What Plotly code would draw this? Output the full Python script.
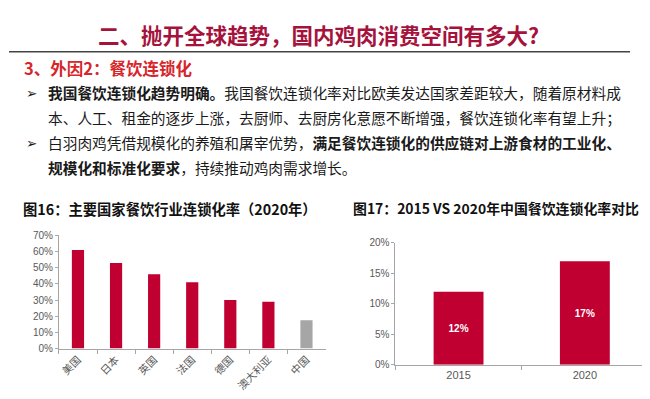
import plotly.graph_objects as go

W, H = 650, 399

# ---- data ----
countries = ["美国", "日本", "英国", "法国", "德国", "澳大利亚", "中国"]
chain_rate_2020 = [0.61, 0.53, 0.46, 0.41, 0.30, 0.29, 0.175]
years = ["2015", "2020"]
china_rate = [0.12, 0.17]

title_text = "二、抛开全球趋势，国内鸡肉消费空间有多大?"
subtitle_text = "3、外因2：餐饮连锁化"
bullet_lines = [
    "<b>我国餐饮连锁化趋势明确。</b>我国餐饮连锁化率对比欧美发达国家差距较大，随着原材料成",
    "本、人工、租金的逐步上涨，去厨师、去厨房化意愿不断增强，餐饮连锁化率有望上升；",
    "白羽肉鸡凭借规模化的养殖和屠宰优势，<b>满足餐饮连锁化的供应链对上游食材的工业化、</b>",
    "<b>规模化和标准化要求</b>，持续推动鸡肉需求增长。",
]
chart1_title = "图16：主要国家餐饮行业连锁化率（2020年）"
chart2_title = "图17：2015 VS 2020年中国餐饮连锁化率对比"

RED = "#C00031"
GREY_BAR = "#A6A6A6"
AXIS = "#A6A6A6"
TICKFONT = dict(family="Liberation Sans, Arial", size=10, color="#595959")
XCATFONT = dict(family="Noto Sans CJK SC", size=10.5, color="#595959")
CJK = "Noto Sans CJK SC"


def px(x):
    return x / W


def py(y):
    return 1 - y / H


fig = go.Figure()

fig.add_trace(go.Bar(
    x=countries, y=chain_rate_2020, width=0.32,
    marker=dict(color=[RED] * 6 + [GREY_BAR], line=dict(width=0)),
    xaxis="x", yaxis="y", showlegend=False, hoverinfo="skip",
))
fig.add_trace(go.Bar(
    x=years, y=china_rate, width=0.395,
    marker=dict(color=RED, line=dict(width=0)),
    texttemplate="<b>%{y:.0%}</b>", textposition="inside",
    insidetextanchor="middle",
    textfont=dict(family="Liberation Sans, Arial", size=10, color="white"),
    xaxis="x2", yaxis="y2", showlegend=False, hoverinfo="skip",
))

common_x = dict(type="category", showline=True, linecolor=AXIS, linewidth=1,
                ticks="outside", tickcolor=AXIS, ticklen=4, tickson="boundaries",
                showgrid=False, fixedrange=True)
common_y = dict(showline=True, linecolor=AXIS, linewidth=1, ticks="outside",
                tickcolor=AXIS, ticklen=3, showgrid=False, zeroline=False,
                tickformat=".0%", tickfont=TICKFONT, fixedrange=True)

fig.update_layout(
    width=W, height=H,
    margin=dict(l=0, r=0, t=0, b=0),
    paper_bgcolor="white", plot_bgcolor="white",
    xaxis=dict(domain=[px(50), px(317)], tickangle=-45, anchor="y",
               tickfont=XCATFONT, **common_x),
    yaxis=dict(domain=[py(345), py(228.3)], range=[0, 0.7], dtick=0.1,
               anchor="x", **common_y),
    xaxis2=dict(domain=[px(387), px(640)], tickangle=0, anchor="y2",
                tickfont=dict(family="Liberation Sans, Arial", size=11, color="#595959"),
                **common_x),
    yaxis2=dict(domain=[py(361.7), py(236)], range=[0, 0.2], dtick=0.05,
                anchor="x2", **common_y),
)

annotations = []
annotations.append(dict(x=px(310), y=py(21), xref="paper", yref="paper",
                        text="<b>" + title_text + "</b>", showarrow=False,
                        xanchor="center", yanchor="middle",
                        font=dict(family=CJK, size=21.5, color="#A5133D")))
annotations.append(dict(x=px(13), y=py(56), xref="paper", yref="paper",
                        text="<b>" + subtitle_text + "</b>", showarrow=False,
                        xanchor="left", yanchor="middle",
                        font=dict(family=CJK, size=16.5, color="#D7262B")))
line_y = [81, 107, 133, 158]
for t, yy in zip(bullet_lines, line_y):
    annotations.append(dict(x=px(37), y=py(yy), xref="paper", yref="paper",
                            text=t, showarrow=False, xanchor="left", yanchor="middle",
                            font=dict(family=CJK, size=14.7, color="#1a1a1a")))
for yy in (line_y[0], line_y[2]):
    annotations.append(dict(x=px(15), y=py(yy), xref="paper", yref="paper",
                            text="<b>➢</b>", showarrow=False, xanchor="left", yanchor="middle",
                            font=dict(family="DejaVu Sans", size=13.5, color="#1a1a1a")))
annotations.append(dict(x=px(12), y=py(201), xref="paper", yref="paper",
                        text="<b>" + chart1_title + "</b>", showarrow=False,
                        xanchor="left", yanchor="middle",
                        font=dict(family=CJK, size=14.3, color="#111111")))
annotations.append(dict(x=px(343), y=py(200), xref="paper", yref="paper",
                        text="<b>" + chart2_title + "</b>", showarrow=False,
                        xanchor="left", yanchor="middle",
                        font=dict(family=CJK, size=13.9, color="#111111")))
fig.update_layout(annotations=annotations)

fig.add_shape(type="line", xref="paper", yref="paper",
              x0=0, x1=px(622), y0=py(39), y1=py(39),
              line=dict(color="#444444", width=1.5))

fig.write_html("out.html", config={"displayModeBar": False})
